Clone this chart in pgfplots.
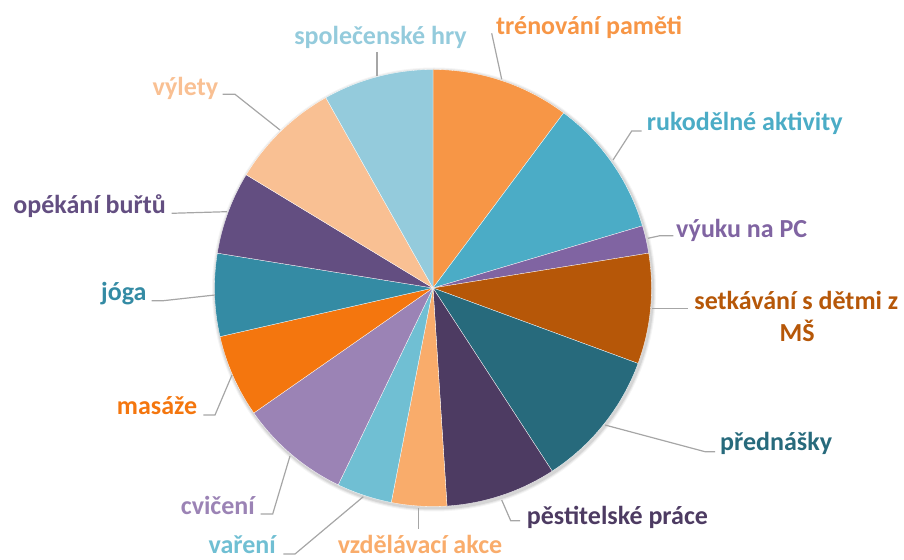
\documentclass[border=0pt]{standalone}
\usepackage{pgfplots}
\pgfplotsset{compat=1.18}
\usepackage{fontspec}
\setmainfont{Carlito}
\definecolor{c1}{HTML}{F79646}
\definecolor{c2}{HTML}{4BACC6}
\definecolor{c3}{HTML}{8064A2}
\definecolor{c4}{HTML}{B65708}
\definecolor{c5}{HTML}{276A7C}
\definecolor{c6}{HTML}{4D3B62}
\definecolor{c7}{HTML}{F9AC6B}
\definecolor{c8}{HTML}{70BFD3}
\definecolor{c9}{HTML}{9B83B5}
\definecolor{c10}{HTML}{F4760E}
\definecolor{c11}{HTML}{348BA4}
\definecolor{c12}{HTML}{634E81}
\definecolor{c13}{HTML}{F9C093}
\definecolor{c14}{HTML}{94CBDC}
\definecolor{lead}{HTML}{A6A6A6}
\begin{document}
\begin{tikzpicture}
\begin{axis}[x=1pt,y=1pt,xmin=0,xmax=904,ymin=0,ymax=559,hide axis,clip=false,
  scale only axis]
\path (axis cs:0,0) rectangle (axis cs:904,559);
\pgfplotsextra{
  % shadow
  \foreach \r/\o in {222/0.04,221/0.06,220/0.08}{
    \fill[black,opacity=\o] (axis cs:434,269.5) circle[radius=\r pt];
  }
  \gdef\angA{90}
  \foreach \v/\c in {5/c1,5/c2,1/c3,4/c4,5/c5,4/c6,2/c7,2/c8,4/c9,3/c10,3/c11,3/c12,4/c13,4/c14}{
    \pgfmathsetmacro\angB{\angA-\v*360/49}
    \fill[\c,draw=white,line width=0.3pt] (axis cs:433,271) -- ++(\angA:218.5pt)
      arc[start angle=\angA,end angle=\angB,radius=218.5pt] -- cycle;
    \xdef\angA{\angB}
  }
}
\begin{scope}[lead,line width=1.2pt]
\draw (axis cs:377,507) -- (axis cs:377,483);
\draw (axis cs:491.7,525.7) -- (axis cs:501.7,479.7);
\draw (axis cs:641.7,428) -- (axis cs:631.7,428) -- (axis cs:613,399);
\draw (axis cs:673.3,323.3) -- (axis cs:660,323.3) -- (axis cs:648,320.7);
\draw (axis cs:651.7,250.7) -- (axis cs:688.3,250.7);
\draw (axis cs:605,134) -- (axis cs:705,107.3) -- (axis cs:715,107.3);
\draw (axis cs:501.7,59) -- (axis cs:510.7,38.3) -- (axis cs:520,38.3);
\draw (axis cs:418.3,51) -- (axis cs:418.3,29.7);
\draw (axis cs:363.3,62.3) -- (axis cs:295,5) -- (axis cs:283.3,5);
\draw (axis cs:290,103) -- (axis cs:272.7,45) -- (axis cs:260.7,45);
\draw (axis cs:232,184) -- (axis cs:215,144) -- (axis cs:203.3,144);
\draw (axis cs:151.7,258.3) -- (axis cs:163.3,258.3) -- (axis cs:215,264);
\draw (axis cs:171.7,345.7) -- (axis cs:227,347.3);
\draw (axis cs:222.7,464.7) -- (axis cs:235,464.7) -- (axis cs:280,429);
\end{scope}
\begin{scope}[every node/.style={inner sep=0pt,font=\fontsize{26}{30}\selectfont\bfseries}]
\node[c14,anchor=base] at (axis cs:380.5,514) {společenské hry};
\node[c1,anchor=base west] at (axis cs:496,524.7) {trénování paměti};
\node[c2,anchor=base west] at (axis cs:646.7,428) {rukodělné aktivity};
\node[c3,anchor=base west] at (axis cs:676,321.7) {výuku na PC};
\node[c4,anchor=base] at (axis cs:796.3,249.7) {setkávání s dětmi z};
\node[c4,anchor=base] at (axis cs:797.2,217.3) {MŠ};
\node[c5,anchor=base west] at (axis cs:720,108.3) {přednášky};
\node[c6,anchor=base west] at (axis cs:526.7,34) {pěstitelské práce};
\node[c7,anchor=base] at (axis cs:420,5.5) {vzdělávací akce};
\node[c8,anchor=base east] at (axis cs:276,5.5) {vaření};
\node[c9,anchor=base east] at (axis cs:255,44) {cvičení};
\node[c10,anchor=base east] at (axis cs:197.3,144) {masáže};
\node[c11,anchor=base east] at (axis cs:146.7,258.3) {jóga};
\node[c12,anchor=base east] at (axis cs:166,345.7) {opékání buřtů};
\node[c13,anchor=base east] at (axis cs:218.3,463) {výlety};
\end{scope}
\end{axis}
\end{tikzpicture}
\end{document}
